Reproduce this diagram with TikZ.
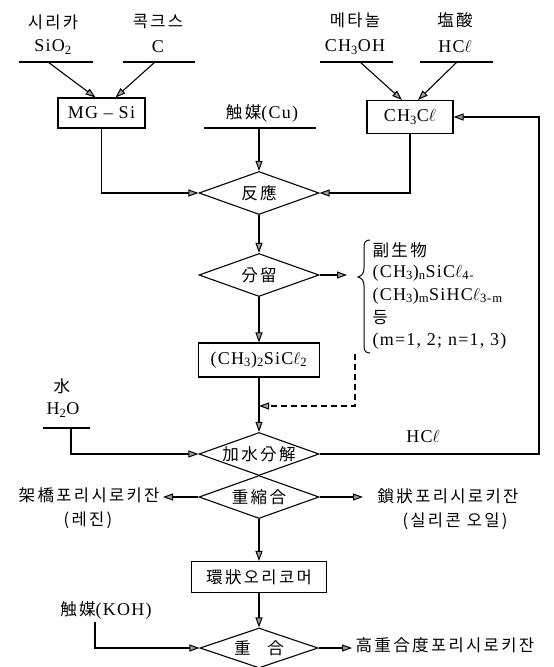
\documentclass[tikz,border=0pt]{standalone}
\usepackage{fontspec}
\setmainfont{Liberation Serif}[LetterSpace=7]
\newfontfamily\kr{Noto Sans CJK KR}[LetterSpace=14, Scale=0.92]
\usetikzlibrary{arrows.meta,shapes.geometric,calc}
\begin{document}
\begin{tikzpicture}[x=1pt,y=-1pt,line width=1.1pt,
  every node/.style={font=\fontsize{18}{20}\selectfont, inner sep=0pt},
  box/.style={draw, rectangle},
  dia/.style={draw, diamond, aspect=2.8, inner sep=0pt, minimum width=120pt, minimum height=43pt},
  arr/.style={-{Triangle[length=10pt,width=7pt,fill=gray!75,line width=1pt]}},
  feed/.style={line width=1.1pt}]
\useasboundingbox (0,0) rectangle (554,667);

% --- top feeds ---
\node (sil) at (53,22) {\kr 시리카};
\node (silf) at (53,47) {SiO\textsubscript{2}};
\coordinate (l1a) at (19,62); \coordinate (l1b) at (93,62);
\draw[feed] (l1a) -- (l1b);
\coordinate (s1) at (48,62);

\node (cok) at (158,22) {\kr 콕크스};
\node (cokf) at (158,47) {C};
\coordinate (l2a) at (123,62); \coordinate (l2b) at (195,62);
\draw[feed] (l2a) -- (l2b);
\coordinate (s2) at (155,62);

\node (met) at (355,20) {\kr 메타놀};
\node (metf) at (355,47) {CH\textsubscript{3}OH};
\coordinate (l3a) at (320,62); \coordinate (l3b) at (393,62);
\draw[feed] (l3a) -- (l3b);
\coordinate (s3) at (360,62);

\node (hca) at (455,20) {\kr 塩酸};
\node (hcaf) at (455,47) {HC$\ell$};
\coordinate (l4a) at (420,62); \coordinate (l4b) at (493,62);
\draw[feed] (l4a) -- (l4b);
\coordinate (s4) at (457,62);

% --- boxes ---
\node[box, minimum width=87pt, minimum height=30pt] (mg) at (101.5,113) {MG -- Si};
\node[box, minimum width=86pt, minimum height=33pt] (ch3cl) at (410,117) {CH\textsubscript{3}C$\ell$};

\draw[arr] (s1) -- ($(mg.north)+(-6,0)$);
\draw[arr] (s2) -- ($(mg.north)+(14,0)$);
\draw[arr] (s3) -- ($(ch3cl.north)+(-8,0)$);
\draw[arr] (s4) -- ($(ch3cl.north)+(8,0)$);

% --- catalyst Cu ---
\node (cu) at (262,113) {{\kr 触媒}(Cu)};
\coordinate (l5a) at (204,128); \coordinate (l5b) at (316,128);
\draw[feed] (l5a) -- (l5b);
\coordinate (cuc) at (259,128);

% --- reaction ---
\node[dia] (r1) at (259,193) {\kr 反應};
\draw[arr] (cuc) -- (r1.north);
\draw[arr] (mg.south) |- (r1.west);
\draw[arr] (ch3cl.south) |- (r1.east);

% --- distillation ---
\node[dia] (r2) at (259,275) {\kr 分留};
\draw[arr] (r1) -- (r2);
\coordinate (bp) at (347,275);
\draw[arr] (r2.east) -- (bp);

% brace
\draw[line width=1pt] (370,240) .. controls (366,240) and (364,242) .. (364,247) -- (364,268)
  .. controls (364,273) and (362,276) .. (358,277)
  .. controls (362,278) and (364,281) .. (364,286) -- (364,346)
  .. controls (364,351) and (366,353) .. (370,353);

\node[anchor=west] (b1) at (372,250) {\kr 副生物};
\node[anchor=west] (b2) at (372,273) {(CH\textsubscript{3})\textsubscript{n}SiC$\ell$\textsubscript{4-}};
\node[anchor=west] (b3) at (372,296) {(CH\textsubscript{3})\textsubscript{m}SiHC$\ell$\textsubscript{3-m}};
\node[anchor=west] (b4) at (372,318) {\kr 등};
\node[anchor=west] (b5) at (372,341) {(m=1, 2;\ n=1, 3)};

% --- dimethyldichlorosilane ---
\node[box, minimum width=121pt, minimum height=34pt] (dm) at (259,360) {(CH\textsubscript{3})\textsubscript{2}SiC$\ell$\textsubscript{2}};
\draw[arr] (r2) -- (dm);

\coordinate (d1) at (355,354);
\coordinate (d2) at (259,406);
\draw[arr, dash pattern=on 6pt off 4pt] (d1) |- (d2);

% --- hydrolysis ---
\node[dia] (hy) at (259,454) {\kr 加水分解};
\draw[arr] (dm) -- (hy);

\node (wat) at (62,386) {\kr 水};
\node (watf) at (63,410) {H\textsubscript{2}O};
\coordinate (l6a) at (43,428); \coordinate (l6b) at (90,428);
\draw[feed] (l6a) -- (l6b);
\coordinate (wc) at (71,428);
\draw[arr] (wc) |- (hy.west);

\coordinate (ret) at (539,300);
\draw[arr] (hy.east) -| (ret) |- (ch3cl.east);
\node (hcl2) at (423,437) {HC$\ell$};

% --- polycondensation ---
\node[dia] (pc) at (259,497) {\kr 重縮合};
\coordinate (pl) at (163,497);
\draw[arr] (pc.west) -- (pl);
\node[anchor=east] (res) at (160,495) {\kr 架橋포리시로키잔};
\node (res2) at (88,520) {\kr (레진)};
\coordinate (pr) at (363,497);
\draw[arr] (pc.east) -- (pr);
\node[anchor=west] (oil) at (377,496) {\kr 鎖狀포리시로키잔};
\node (oil2) at (455,521) {\kr (실리콘 오일)};

% --- cyclic oligomer ---
\node[box, minimum width=135pt, minimum height=31pt] (cy) at (259,577) {\kr 環狀오리코머};
\draw[arr] (pc) -- (cy);

% --- polymerization ---
\node[dia, minimum width=118pt, minimum height=40pt] (po) at (259,648) {\kr 重\quad 合};
\draw[arr] (cy) -- (po);
\node (koh) at (106,610) {{\kr 触媒}(KOH)};
\coordinate (kc) at (95,622);
\draw[arr] (kc) |- (po.west);
\coordinate (hp) at (352,648);
\draw[arr] (po.east) -- (hp);
\node[anchor=west] (hpt) at (355,645) {\kr 高重合度포리시로키잔};
\end{tikzpicture}
\end{document}
